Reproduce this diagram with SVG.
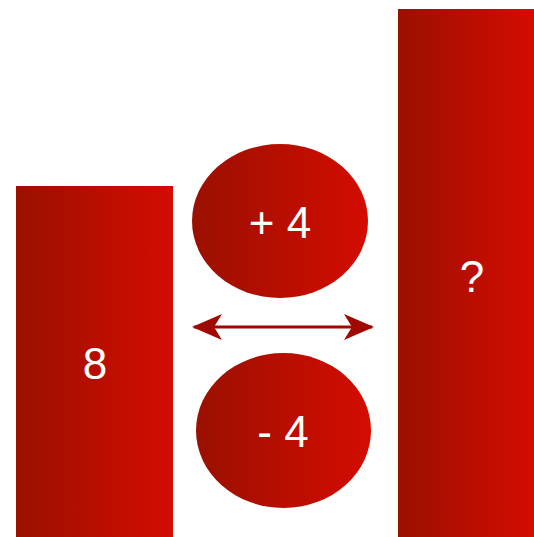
<svg xmlns="http://www.w3.org/2000/svg" width="534" height="537" viewBox="0 0 534 537">
<defs>
<linearGradient id="g" x1="0" y1="0" x2="1" y2="0">
<stop offset="0" stop-color="#9a1000"/>
<stop offset="1" stop-color="#d40c00"/>
</linearGradient>
<marker id="ah" viewBox="0 0 30 30" refX="28" refY="15" markerWidth="30" markerHeight="30" markerUnits="userSpaceOnUse" orient="auto-start-reverse">
<path d="M0,2 L30,15 L0,28 L8,15 Z" fill="#a00800"/>
</marker>
</defs>
<style>
.shape{fill:url(#g);}
.lbl{fill:#ffffff;font-family:"Liberation Sans",Arial,sans-serif;font-size:44px;text-anchor:middle;dominant-baseline:central;}
.conn{stroke:#a00800;stroke-width:3;fill:none;}
</style>
<g id="connectors">
<line class="conn" x1="194" y1="327" x2="372" y2="327" marker-start="url(#ah)" marker-end="url(#ah)"/>
</g>
<g id="left">
<rect class="shape" x="16" y="186" width="157" height="351"/>
<text class="lbl" x="95" y="363">8</text>
</g>
<g id="right">
<rect class="shape" x="398" y="9" width="136" height="528"/>
<text class="lbl" x="472" y="276">?</text>
</g>
<g id="plus">
<ellipse class="shape" cx="280" cy="221" rx="88" ry="77"/>
<text class="lbl" x="280" y="222">+ 4</text>
</g>
<g id="minus">
<ellipse class="shape" cx="283.5" cy="430.5" rx="87.5" ry="77.5"/>
<text class="lbl" x="283" y="431">- 4</text>
</g>
</svg>
